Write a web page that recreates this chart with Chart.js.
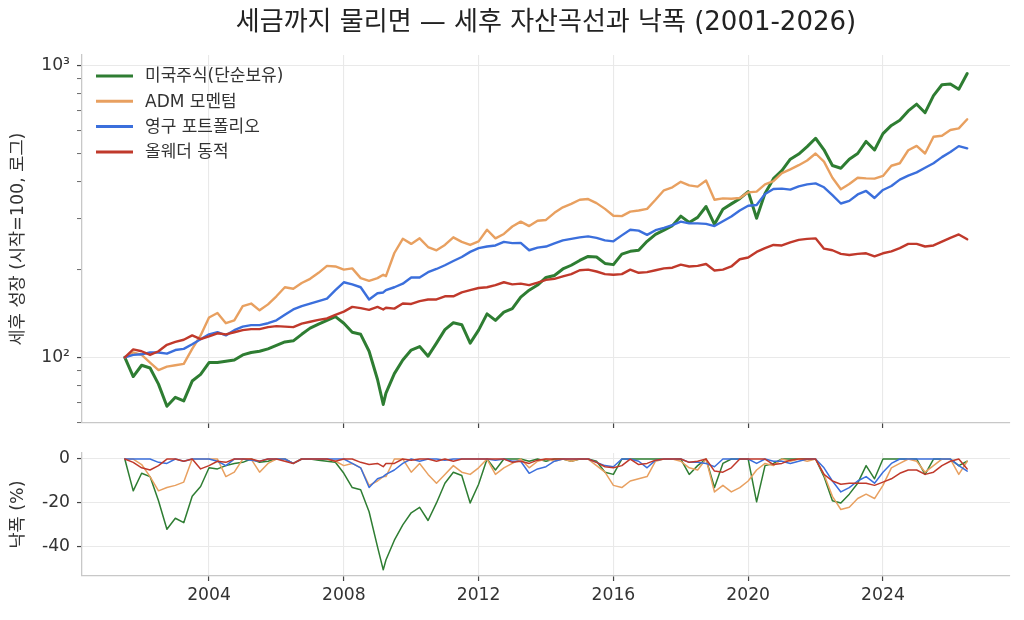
<!DOCTYPE html>
<html lang="ko">
<head>
<meta charset="utf-8">
<title>세금까지 물리면 — 세후 자산곡선과 낙폭 (2001-2026)</title>
<script src="https://cdn.jsdelivr.net/npm/chart.js@4.4.1/dist/chart.umd.min.js"></script>
<style>
html,body{margin:0;padding:0;background:#fff;}
#wrap{position:relative;width:1024px;height:620px;overflow:hidden;}
#c1{position:absolute;left:0;top:0;}
#c2{position:absolute;left:0;top:430px;}
</style>
</head>
<body>
<div id="wrap">
<canvas id="c1" width="1024" height="430"></canvas>
<canvas id="c2" width="1024" height="190"></canvas>
</div>
<script>
// ---------------- DATA ----------------
const chartTitle = '세금까지 물리면 — 세후 자산곡선과 낙폭 (2001-2026)';
const seriesNames = ['미국주식(단순보유)', 'ADM 모멘텀', '영구 포트폴리오', '올웨더 동적'];
const yTitleTop = '세후 성장 (시작=100, 로그)';
const yTitleBottom = '낙폭 (%)';

const dates = [
 2001.5,2001.75,
 2002,2002.25,2002.5,2002.75,
 2003,2003.25,2003.5,2003.75,
 2004,2004.25,2004.5,2004.75,
 2005,2005.25,2005.5,2005.75,
 2006,2006.25,2006.5,2006.75,
 2007,2007.25,2007.5,2007.75,
 2008,2008.25,2008.5,2008.75,
 2009,2009.17,2009.25,2009.5,2009.75,
 2010,2010.25,2010.5,2010.75,
 2011,2011.25,2011.5,2011.75,
 2012,2012.25,2012.5,2012.75,
 2013,2013.25,2013.5,2013.75,
 2014,2014.25,2014.5,2014.75,
 2015,2015.25,2015.5,2015.75,
 2016,2016.25,2016.5,2016.75,
 2017,2017.25,2017.5,2017.75,
 2018,2018.25,2018.5,2018.75,
 2019,2019.25,2019.5,2019.75,
 2020,2020.25,2020.5,2020.75,
 2021,2021.25,2021.5,2021.75,
 2022,2022.25,2022.5,2022.75,
 2023,2023.25,2023.5,2023.75,
 2024,2024.25,2024.5,2024.75,
 2025,2025.25,2025.5,2025.75,
 2026,2026.25,2026.5
];

// after-tax growth (start = 100)
const usStocks = [
 100,86,
 94,92,81,68,
 73,71,83,87.5,
 96,96,97,98,
 102,104,105,107,
 110,113,114,120,
 126,130,134,138,
 131,122,120,105,
 84,69,75.5,88,98,
 106,109,101,112,
 124.5,131.5,129.5,112,
 124,141,134,143,
 147,161,170,177,
 188,191,201,207,
 215,222,221,210,
 208,226,231,233,
 250,264,273,283,
 305,290,302,329,
 286,322,336,350,
 370,300,365,410,
 437,478,498,528,
 564,515,455,445,
 478,500,550,514,
 585,624,650,700,
 738,690,790,860,
 865,830,940
];
const admMomentum = [
 100,104,
 102,96,90.5,93,
 94,95,107,119,
 137,142,131,134,
 150,153,145,152,
 162,174,172,180,
 186,195,206,205,
 200,202,187,183,
 187,192,190,228,255,
 245,256,239,233,
 243,258,249,243,
 250,274,256,265,
 281,292,282,294,
 296,313,327,336,
 347,349,338,323,
 306,305,316,319,
 323,347,374,383,
 400,389,385,404,
 347,351,350,352,
 368,370,392,402,
 428,441,456,473,
 500,469,413,377,
 393,413,411,410,
 419,454,463,513,
 531,500,571,575,
 602,610,655
];
const permanentPf = [
 100,102,
 102.5,104,104,103,
 106,107,111,115.5,
 120,122,119,124,
 127.5,129,129,131,
 134,140,146,150,
 153,156,159,170,
 181,178,174,158,
 166,167,170,174,179,
 188,188,196,201,
 207,214,221,230,
 237,240,242,249,
 246.5,247,233,238,
 240,246,252,255,
 258,260,257,252,
 250,262,274,272,
 263,273,278,284,
 292,288,288,287,
 282,293,304,319,
 331,333,363,378,
 379,376,386,392,
 395,383,360,337,
 344,362,372,352,
 375,387,407,420,
 431,447,463,486,
 506,530,521
];
const allWeather = [
 100,106.5,
 105,102,105,110.5,
 113,115,119,115.5,
 118,121,120,122,
 124,125,125,127,
 128,127.5,127,130.5,
 132.5,134.5,136,140,
 143.5,149,147.5,145.5,
 149,146,148,147,153,
 152.5,156,158,158,
 162,162,167,170,
 173,174,177,181,
 178,179,177,180.5,
 184.5,186,189.5,193,
 199,200,197,193,
 192,193,200,195,
 196,199,202,203,
 208,205,206,209,
 198.5,200,205,217,
 220,230,237,243,
 242,248,253,255,
 256,236,233,226.5,
 224.5,226.5,227.5,222,
 227.5,231,237,245,
 245,240,242,249.5,
 257,264,254
];

// drawdowns (%)
const ddUsStocks = [
 0,-14.5,
 -6.5,-8,-19,-32,
 -27,-29,-17,-12.5,
 -4,-4.5,-3,-2,
 -1.5,0,-1.5,-1,
 0,0,-2,0,
 0,-0.5,-1,-1.5,
 -6.5,-13,-14,-24,
 -40,-50.5,-46,-37,-30,
 -24.5,-22,-28,-20,
 -11,-6,-7.5,-20,
 -11.5,0,-5,0,
 0,0,-1,0,
 -1,0,0,-1,
 0,0,-1,-6,
 -7,0,0,0,
 0,0,0,0,
 0,-7,-3,0,
 -13,-2,0,0,
 0,-19.5,-3,-2,
 0,0,0,0,
 0,-8,-19,-20,
 -16,-11,-3,-9,
 0,0,0,0,
 0,-7,0,0,
 0,-3,-1
];
const ddAdmMomentum = [
 0,0,
 -2.5,-8,-14.5,-13,
 -12,-10.5,0,0,
 0,0,-8,-6,
 0,0,-6,-2,
 0,0,-2,0,
 0,0,0,-1,
 -3,-2,-4,-12,
 -10,-8,-8,0,0,
 -6,-2,-7,-11,
 -7,-3,-6,-7,
 -4,0,-7,-4,
 -2,0,-4,-1,
 0,-1,0,-1,
 0,0,-3,-6,
 -12,-13,-10,-9,
 -8,-1,0,0,
 -1,-4,-5,0,
 -15,-12,-15,-13,
 -10,-5,-2,-3,
 0,-1,0,-1,
 0,-7,-17,-23,
 -22,-18,-16,-18,
 -12,-4,-2,0,
 -1,-6,-3,0,
 0,-7,-1
];
const ddPermanentPf = [
 0,0,
 0,0,-1.5,-2,
 0,-1,0,0,
 0,-1,-3,0,
 0,-0.5,-1,0,
 0,0,-2,0,
 0,0,0,0,
 0,-2,-4,-13,
 -9,-8,-7,-5,-2,
 0,-1,0,0,
 -0.5,0,0,0,
 0,0,-0.5,0,
 -1,-1,-6.5,-4.5,
 -3.5,-1,0,0,
 0,0,-1.5,-3,
 -3.5,0,0,-1,
 -4,-0.5,0,0,
 0,-1.5,-1.5,-2,
 -3.5,0,0,0,
 0,-2,0,-1,
 -1,-2,-1,0,
 0,-4,-10,-15,
 -13,-10,-8,-11,
 -6,-2,0,0,
 0,0,0,0,
 0,-3,-5.5
];
const ddAllWeather = [
 0,-1.5,
 -4,-5,-3,0,
 0,-1,0,-4.5,
 -3,-1,-1.5,0,
 0,0,-1,0,
 0,-1,-2,0,
 0,0,0,-1,
 0,0,-1.5,-2.5,
 -2,-3.5,-2,-2,0,
 -0.5,0,0,-1,
 0,-1,0,0,
 0,0,0,0,
 -1.5,-1,-2,-0.5,
 0,0,0,0,
 0,0,-1.5,-3.5,
 -4,-3,0,-2.5,
 -2,-0.5,0,0,
 0,-1.5,-1,0,
 -5.5,-6,-4,0,
 0,0,0,-2.5,
 -2,-0.5,0,0,
 0,-7,-10,-11.5,
 -11,-11,-11,-12,
 -10.5,-9,-6.5,-5,
 -5,-7,-6,-3,
 -1,0,-4.5
];

// tick values / labels
const yearTicks = [2004, 2008, 2012, 2016, 2020, 2024];
const logTickValues = [60,70,80,90,100,200,300,400,500,600,700,800,900,1000];
const logTickLabels = ['','','','','10²','','','','','','','','','10³'];
const ddTickValues = [-40, -20, 0];
const ddTickLabels = ['-40', '-20', '0'];

// ---------------- STYLE ----------------
const FONT = '"DejaVu Sans", "Noto Sans CJK KR", sans-serif';
const COLORS = ['#2e7d32', '#e8a060', '#3b6fdc', '#c0392b'];
const TOP_WIDTHS = [3, 2.4, 2.4, 2.4];
const GRID = '#e9e9e9';
const SPINE = '#c8c8c8';
const TICKC = '#444';
const TEXT = '#333';
const X_MIN = 2000.23, X_MAX = 2027.77;
const TICK_SIZE = 17.2;
const AXIS_TITLE_SIZE = 17.5;

Chart.defaults.font.family = FONT;
Chart.defaults.color = TEXT;

const toPts = arr => dates.map((d, i) => ({ x: d, y: arr[i] }));
const topSeries = [usStocks, admMomentum, permanentPf, allWeather];
const ddSeries = [ddUsStocks, ddAdmMomentum, ddPermanentPf, ddAllWeather];

function makeDatasets(list, widths) {
  return list.map((arr, i) => ({
    label: seriesNames[i],
    data: toPts(arr),
    borderColor: COLORS[i],
    backgroundColor: COLORS[i],
    borderWidth: widths[i],
    pointRadius: 0,
    pointHoverRadius: 0,
    tension: 0,
    fill: false,
    order: 3 - i,
    borderJoinStyle: 'round',
    borderCapStyle: 'round'
  }));
}

const noPad = s => { s.paddingTop = 0; s.paddingBottom = 0; s.paddingLeft = 0; s.paddingRight = 0; };

const titlePlugin = {
  id: 'axTitle',
  afterDraw(chart) {
    const { ctx, chartArea } = chart;
    ctx.save();
    ctx.font = '26px ' + FONT;
    ctx.fillStyle = '#222';
    ctx.textAlign = 'center';
    ctx.textBaseline = 'middle';
    ctx.fillText(chartTitle, (chartArea.left + chartArea.right) / 2, 23);
    ctx.restore();
  }
};

const legendPlugin = {
  id: 'innerLegend',
  afterDraw(chart) {
    const { ctx, chartArea } = chart;
    ctx.save();
    ctx.font = '17px ' + FONT;
    ctx.textBaseline = 'middle';
    ctx.textAlign = 'left';
    chart.data.datasets.forEach((ds, i) => {
      const y = chartArea.top + 21 + i * 25.3;
      ctx.strokeStyle = ds.borderColor;
      ctx.lineWidth = 3;
      ctx.lineCap = 'butt';
      ctx.beginPath();
      ctx.moveTo(chartArea.left + 14, y);
      ctx.lineTo(chartArea.left + 51, y);
      ctx.stroke();
      ctx.fillStyle = TEXT;
      ctx.fillText(ds.label, chartArea.left + 63, y + 1);
    });
    ctx.restore();
  }
};

// ---------------- TOP CHART ----------------
new Chart(document.getElementById('c1'), {
  type: 'line',
  data: { datasets: makeDatasets(topSeries, TOP_WIDTHS) },
  options: {
    responsive: false,
    animation: false,
    events: [],
    layout: { padding: { top: 55, right: 14, left: 0, bottom: 0 } },
    plugins: { legend: { display: false }, tooltip: { enabled: false }, title: { display: false } },
    scales: {
      x: {
        type: 'linear', min: X_MIN, max: X_MAX, bounds: 'data',
        afterBuildTicks: s => { s.ticks = yearTicks.map(v => ({ value: v })); },
        afterFit: s => { s.height = 7; noPad(s); },
        ticks: { display: false },
        grid: { color: GRID, lineWidth: 1.1, drawTicks: true, tickLength: 5, tickColor: TICKC, tickWidth: 1.2 },
        border: { color: SPINE, width: 1.3 }
      },
      y: {
        type: 'logarithmic', min: 59.6, max: 1088, bounds: 'data',
        afterBuildTicks: s => { s.ticks = logTickValues.map(v => ({ value: v })); },
        afterFit: s => { s.width = 82; noPad(s); },
        ticks: {
          autoSkip: false,
          padding: 7,
          font: { size: TICK_SIZE },
          color: TEXT,
          callback: (v) => { const k = logTickValues.indexOf(v); return k >= 0 ? logTickLabels[k] : ''; }
        },
        grid: {
          color: c => (c.tick && (c.tick.value === 100 || c.tick.value === 1000)) ? GRID : 'rgba(0,0,0,0)',
          lineWidth: 1.1,
          tickLength: 5,
          tickColor: TICKC,
          tickWidth: c => (c.tick && (c.tick.value === 100 || c.tick.value === 1000)) ? 1.2 : 0.8
        },
        border: { color: SPINE, width: 1.3 },
        title: { display: true, text: yTitleTop, font: { size: AXIS_TITLE_SIZE }, color: TEXT, padding: { top: 8, bottom: 0 } }
      }
    }
  },
  plugins: [titlePlugin, legendPlugin]
});

// ---------------- BOTTOM CHART ----------------
new Chart(document.getElementById('c2'), {
  type: 'line',
  data: { datasets: makeDatasets(ddSeries, [1.5, 1.5, 1.5, 1.5]) },
  options: {
    responsive: false,
    animation: false,
    events: [],
    layout: { padding: { top: 23, right: 14, left: 0, bottom: 0 } },
    plugins: { legend: { display: false }, tooltip: { enabled: false }, title: { display: false } },
    scales: {
      x: {
        type: 'linear', min: X_MIN, max: X_MAX, bounds: 'data',
        afterBuildTicks: s => { s.ticks = yearTicks.map(v => ({ value: v })); },
        afterFit: s => { s.height = 44; noPad(s); },
        ticks: { autoSkip: false, maxRotation: 0, padding: 4, font: { size: TICK_SIZE }, color: TEXT, callback: v => String(v) },
        grid: { color: GRID, lineWidth: 1.1, tickLength: 5, tickColor: TICKC, tickWidth: 1.2 },
        border: { color: SPINE, width: 1.3 }
      },
      y: {
        type: 'linear', min: -53.3, max: 2.75, bounds: 'data',
        afterBuildTicks: s => { s.ticks = ddTickValues.map(v => ({ value: v })); },
        afterFit: s => { s.width = 82; noPad(s); },
        ticks: {
          autoSkip: false, padding: 7, font: { size: TICK_SIZE }, color: TEXT,
          callback: v => { const k = ddTickValues.indexOf(v); return k >= 0 ? ddTickLabels[k] : ''; }
        },
        grid: { color: GRID, lineWidth: 1.1, tickLength: 5, tickColor: TICKC, tickWidth: 1.2 },
        border: { color: SPINE, width: 1.3 },
        title: { display: true, text: yTitleBottom, font: { size: AXIS_TITLE_SIZE }, color: TEXT, padding: { top: 8, bottom: 0 } }
      }
    }
  }
});
</script>
</body>
</html>
